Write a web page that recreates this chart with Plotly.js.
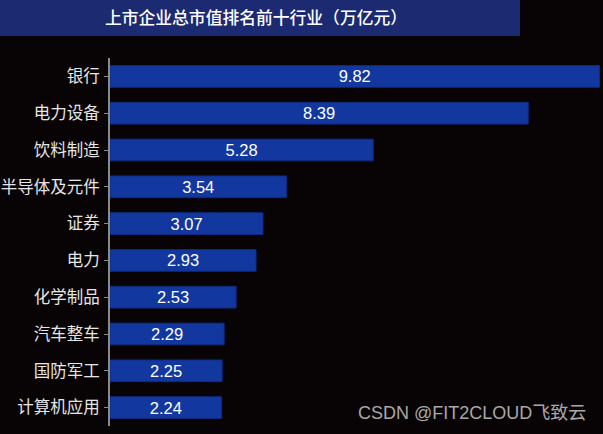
<!DOCTYPE html>
<html><head><meta charset="utf-8">
<script src="https://cdn.plot.ly/plotly-3.0.1.min.js"></script>
<style>html,body{margin:0;padding:0;background:#080405;}#c{width:603px;height:434px;}</style>
</head><body><div id="c"></div>
<script>
const categories = ["银行","电力设备","饮料制造","半导体及元件","证券","电力","化学制品","汽车整车","国防军工","计算机应用"];
const values = [9.82, 8.39, 5.28, 3.54, 3.07, 2.93, 2.53, 2.29, 2.25, 2.24];
const titleText = "上市企业总市值排名前十行业（万亿元）";
const watermark = "CSDN @FIT2CLOUD飞致云";
const FONT = "Liberation Sans, Noto Sans CJK SC, sans-serif";

const trace = {
  type: "bar", orientation: "h",
  x: values, y: categories,
  text: values.map(v => v.toFixed(2)),
  textposition: "inside", insidetextanchor: "middle", constraintext: "none",
  textfont: {color: "#ffffff", size: 16.5, family: FONT},
  marker: {color: "#1238a0", line: {color: "#0d2a80", width: 1}},
  width: 0.59, hoverinfo: "none", cliponaxis: false
};
const layout = {
  width: 603, height: 434,
  paper_bgcolor: "#080405", plot_bgcolor: "#080405",
  margin: {l: 110, r: 3, t: 58, b: 8},
  showlegend: false,
  uniformtext: {mode: false},
  title: {text: titleText, x: 256/603, xanchor: "center", y: 1 - 18/434, yanchor: "middle",
          font: {color: "#ffffff", size: 16.8, family: "Noto Sans CJK SC, sans-serif", weight: 500}},
  xaxis: {range: [0, 9.83], visible: false, fixedrange: true},
  yaxis: {autorange: "reversed", showline: true, linecolor: "#8a8a8a", linewidth: 2,
          ticks: "outside", ticklen: 4, tickcolor: "#8a8a8a", tickwidth: 1,
          tickfont: {color: "#e6e6e6", size: 16.5, family: "Noto Sans CJK SC, sans-serif"},
          showgrid: false, zeroline: false, ticklabelstandoff: 1},
  shapes: [{type: "rect", xref: "paper", yref: "paper",
            x0: -110/490, x1: 410/490, y0: (426-36)/368, y1: 426/368,
            fillcolor: "#1c2a72", line: {width: 0}, layer: "below"}],
  annotations: [{text: watermark, xref: "paper", yref: "paper", x: 478/490, y: (426-413)/368,
                 xanchor: "right", yanchor: "middle", showarrow: false,
                 font: {color: "#a8a8a8", size: 18, family: FONT}}]
};
Plotly.newPlot("c", [trace], layout, {displayModeBar: false, staticPlot: true});
</script></body></html>
